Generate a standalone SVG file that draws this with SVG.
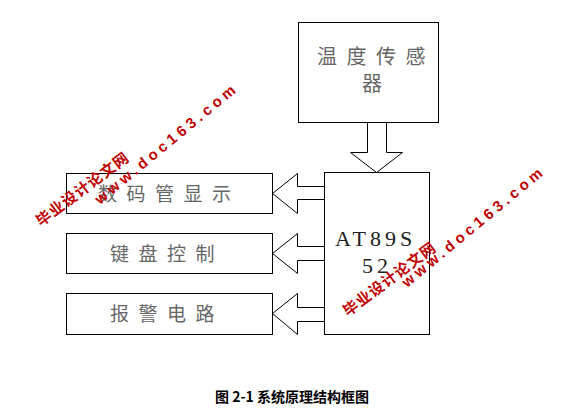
<svg xmlns="http://www.w3.org/2000/svg" width="583" height="417" viewBox="0 0 583 417">
<style>
.box{fill:#fff;stroke:#000;stroke-width:1}
.arr{fill:#fff;stroke:#000;stroke-width:1;stroke-linejoin:miter}
.cn{font-family:"Noto Sans CJK SC","Noto Sans CJK JP",sans-serif;font-size:19px;fill:#666;letter-spacing:9.5px}
.en{font-family:"Liberation Serif","Times New Roman",serif;font-size:22px;fill:#222;letter-spacing:4px}
.cap{font-family:"Noto Sans CJK SC",sans-serif;font-size:14px;font-weight:bold;fill:#000}
.wm{font-family:"Liberation Sans",Arial,sans-serif;font-weight:bold;font-size:15px;fill:#c00000;letter-spacing:4px}
.wmc{font-family:"Noto Sans CJK SC",sans-serif;font-weight:bold;font-size:15px;fill:#c00000;letter-spacing:1px}
</style>
<rect width="583" height="417" fill="#fff"/>
<g id="connectors">
<polygon class="arr" points="367.5,122.5 386.5,122.5 386.5,152.5 402.5,152.5 376.5,172.5 350.5,152.5 367.5,152.5"/>
<polygon class="arr" points="324.5,186.5 297.5,186.5 297.5,173.5 272.5,193.5 297.5,213.5 297.5,199.5 324.5,199.5"/>
<polygon class="arr" points="324.5,246.5 297.5,246.5 297.5,233.5 272.5,253.5 297.5,273.5 297.5,260.5 324.5,260.5"/>
<polygon class="arr" points="324.5,307.5 297.5,307.5 297.5,293.5 272.5,313.5 297.5,334.5 297.5,321.5 324.5,321.5"/>
</g>
<g id="sensor">
<rect class="box" x="298.5" y="22.5" width="140" height="100"/>
<text class="cn" x="317" y="64" style="font-size:20px">温度传感</text>
<text class="cn" x="362" y="91" style="font-size:20px">器</text>
</g>
<g id="mcu">
<rect class="box" x="324.5" y="172.5" width="105" height="162"/>
<text class="en" x="335" y="246">AT89S</text>
<text class="en" x="362" y="273">52</text>
</g>
<g id="display">
<rect class="box" x="66.5" y="173.5" width="206" height="40"/>
<text class="cn" x="98" y="201">数码管显示</text>
</g>
<g id="keyboard">
<rect class="box" x="66.5" y="233.5" width="206" height="40"/>
<text class="cn" x="110" y="261">键盘控制</text>
</g>
<g id="alarm">
<rect class="box" x="66.5" y="293.5" width="206" height="41"/>
<text class="cn" x="110" y="321">报警电路</text>
</g>
<g id="caption">
<text class="cap" x="292" y="402" text-anchor="middle">图 2-1 系统原理结构框图</text>
</g>
<g id="watermark1">
<text class="wm" transform="translate(100,205) rotate(-39.6)">www.doc163.com</text>
<text class="wmc" transform="translate(41,227) rotate(-37)">毕业设计论文网</text>
</g>
<g id="watermark2">
<text class="wm" transform="translate(407,288) rotate(-39.6)">www.doc163.com</text>
<text class="wmc" transform="translate(348,317) rotate(-37)">毕业设计论文网</text>
</g>
</svg>
